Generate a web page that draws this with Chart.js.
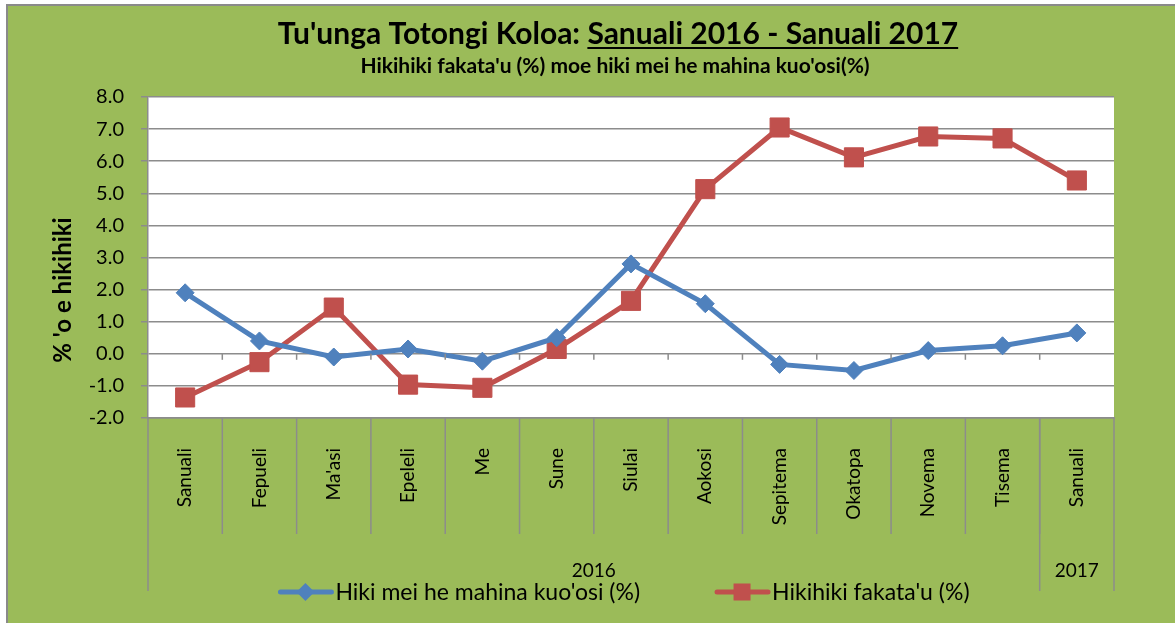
<!DOCTYPE html>
<html>
<head>
<meta charset="utf-8">
<title>Tu'unga Totongi Koloa</title>
<script src="https://cdn.jsdelivr.net/npm/chart.js@4.4.1/dist/chart.umd.min.js"></script>
<style>
    html, body { margin: 0; padding: 0; background: #ffffff; }
    #wrap { width: 1175px; height: 623px; }
</style>
</head>
<body>
<div id="wrap"><canvas id="cpiChart" width="1175" height="623"></canvas></div>
<script>
// Chart data
const months = ['Sanuali', 'Fepueli', "Ma'asi", 'Epeleli', 'Me', 'Sune', 'Siulai',
    'Aokosi', 'Sepitema', 'Okatopa', 'Novema', 'Tisema', 'Sanuali'];
const yearLabels = ['2016', '2017'];
const yearSpans = [12, 1];
const monthlyChange = [1.9, 0.4, -0.1, 0.15, -0.23, 0.5, 2.8, 1.56, -0.33, -0.52, 0.1, 0.25, 0.65];
const annualChange = [-1.36, -0.26, 1.44, -0.96, -1.06, 0.15, 1.65, 5.13, 7.05, 6.12, 6.77, 6.71, 5.4];

const titleMain = "Tu'unga Totongi Koloa: ";
const titleUnderlined = 'Sanuali 2016 - Sanuali 2017';
const subTitle = "Hikihiki fakata'u (%) moe hiki mei he mahina kuo'osi(%)";
const yTitle = "% 'o e hikihiki";

const GREEN = '#9bbb59';
const GRID = '#8c8c8c';
const FONT = 'Lato, "Open Sans", sans-serif';

// background, titles, multi level axis and legend, drawn like the Excel original
const excelFrame = {
    id: 'excelFrame',
    beforeDraw(chart) {
        const ctx = chart.ctx;
        const area = chart.chartArea;
        ctx.save();
        ctx.fillStyle = '#ffffff';
        ctx.fillRect(0, 0, chart.width, chart.height);
        ctx.fillStyle = GREEN;
        ctx.fillRect(8, 6, chart.width - 8, chart.height - 6);
        ctx.strokeStyle = '#8a8a8a';
        ctx.lineWidth = 2;
        ctx.beginPath();
        ctx.moveTo(7, chart.height);
        ctx.lineTo(7, 5);
        ctx.lineTo(chart.width, 5);
        ctx.stroke();
        ctx.fillStyle = '#ffffff';
        ctx.fillRect(area.left, area.top, area.right - area.left, area.bottom - area.top);
        ctx.restore();
    },
    afterDraw(chart) {
        const ctx = chart.ctx;
        const area = chart.chartArea;
        const x = chart.scales.x;
        const y = chart.scales.y;
        ctx.save();

        // title with underlined period
        ctx.fillStyle = '#000000';
        ctx.textBaseline = 'alphabetic';
        ctx.textAlign = 'left';
        ctx.font = 'bold 30px ' + FONT;
        const w1 = ctx.measureText(titleMain).width;
        const w2 = ctx.measureText(titleUnderlined).width;
        let tx = 618 - (w1 + w2) / 2;
        ctx.fillText(titleMain, tx, 44);
        ctx.fillText(titleUnderlined, tx + w1, 44);
        ctx.fillRect(tx + w1, 47, w2, 2);

        ctx.font = 'bold 21px ' + FONT;
        ctx.textAlign = 'center';
        ctx.fillText(subTitle, 615, 73);

        // y axis title
        ctx.save();
        ctx.translate(63, 290);
        ctx.rotate(-Math.PI / 2);
        ctx.font = 'bold 24px ' + FONT;
        ctx.textBaseline = 'middle';
        ctx.fillText(yTitle, 0, 0);
        ctx.restore();

        // category separators below the axis
        const half = (x.getPixelForValue(1) - x.getPixelForValue(0)) / 2;
        ctx.strokeStyle = GRID;
        ctx.lineWidth = 1.5;
        for (let i = 1; i < months.length; i++) {
            const bx = x.getPixelForValue(i) - half;
            ctx.beginPath();
            ctx.moveTo(bx, area.bottom);
            ctx.lineTo(bx, area.bottom + 116);
            ctx.stroke();
            // small ticks on the zero line
            const y0 = y.getPixelForValue(0);
            ctx.beginPath();
            ctx.moveTo(bx, y0);
            ctx.lineTo(bx, y0 + 6);
            ctx.stroke();
        }

        // year groups
        ctx.font = '19px ' + FONT;
        ctx.textAlign = 'center';
        ctx.textBaseline = 'middle';
        let start = 0;
        const edges = [x.getPixelForValue(0) - half];
        yearLabels.forEach((label, gi) => {
            const end = start + yearSpans[gi] - 1;
            const left = x.getPixelForValue(start) - half;
            const right = x.getPixelForValue(end) + half;
            edges.push(right);
            ctx.fillText(label, (left + right) / 2, 571);
            start = end + 1;
        });
        edges.forEach(ex => {
            ctx.beginPath();
            ctx.moveTo(ex, area.bottom);
            ctx.lineTo(ex, 591);
            ctx.stroke();
        });

        // legend
        ctx.font = '23px ' + FONT;
        ctx.textAlign = 'left';
        const items = chart.data.datasets.map(ds => ({
            ds: ds,
            w: 57 + ctx.measureText(ds.label).width
        }));
        const gap = 75;
        const total = items.reduce((s, it) => s + it.w, 0) + gap * (items.length - 1);
        let lx = 624 - total / 2;
        const ly = 592;
        items.forEach(it => {
            const ds = it.ds;
            ctx.strokeStyle = ds.borderColor;
            ctx.lineWidth = 5;
            ctx.lineCap = 'round';
            ctx.beginPath();
            ctx.moveTo(lx + 2, ly);
            ctx.lineTo(lx + 53, ly);
            ctx.stroke();
            ctx.fillStyle = ds.borderColor;
            const mx = lx + 27;
            if (ds.pointStyle === 'rectRot') {
                ctx.beginPath();
                ctx.moveTo(mx, ly - 9);
                ctx.lineTo(mx + 9, ly);
                ctx.lineTo(mx, ly + 9);
                ctx.lineTo(mx - 9, ly);
                ctx.closePath();
                ctx.fill();
            } else {
                ctx.fillRect(mx - 8.5, ly - 8.5, 17, 17);
            }
            ctx.fillStyle = '#000000';
            ctx.fillText(ds.label, lx + 57, ly + 1);
            lx += it.w + gap;
        });
        ctx.restore();
    }
};

new Chart(document.getElementById('cpiChart'), {
    type: 'line',
    data: {
        labels: months,
        datasets: [
            {
                label: "Hiki mei he mahina kuo'osi (%)",
                data: monthlyChange,
                borderColor: '#4f81bd',
                backgroundColor: '#4f81bd',
                borderWidth: 5,
                pointStyle: 'rectRot',
                pointRadius: 9,
                pointBorderWidth: 1,
                tension: 0
            },
            {
                label: "Hikihiki fakata'u (%)",
                data: annualChange,
                borderColor: '#c0504d',
                backgroundColor: '#c0504d',
                borderWidth: 5,
                pointStyle: 'rect',
                pointRadius: 13.5,
                pointBorderWidth: 1,
                tension: 0
            }
        ]
    },
    options: {
        responsive: false,
        animation: false,
        layout: {
            padding: { left: 50, right: 61, top: 97, bottom: 0 }
        },
        plugins: {
            legend: { display: false },
            title: { display: false },
            tooltip: { enabled: false }
        },
        scales: {
            x: {
                offset: true,
                grid: { display: false },
                border: { display: true, color: GRID, width: 1.5 },
                ticks: {
                    autoSkip: false,
                    minRotation: 90,
                    maxRotation: 90,
                    padding: 22,
                    color: '#000000',
                    font: { family: FONT, size: 19 }
                },
                afterFit(scale) { scale.height = 205; }
            },
            y: {
                min: -2,
                max: 8,
                ticks: {
                    stepSize: 1,
                    padding: 17,
                    color: '#000000',
                    font: { family: FONT, size: 20 },
                    callback: v => v.toFixed(1)
                },
                grid: { color: GRID, lineWidth: 1.5, tickLength: 7, drawTicks: true },
                border: { display: true, color: GRID, width: 1.5 },
                afterFit(scale) { scale.width = 98; }
            }
        }
    },
    plugins: [excelFrame]
});
</script>
</body>
</html>
